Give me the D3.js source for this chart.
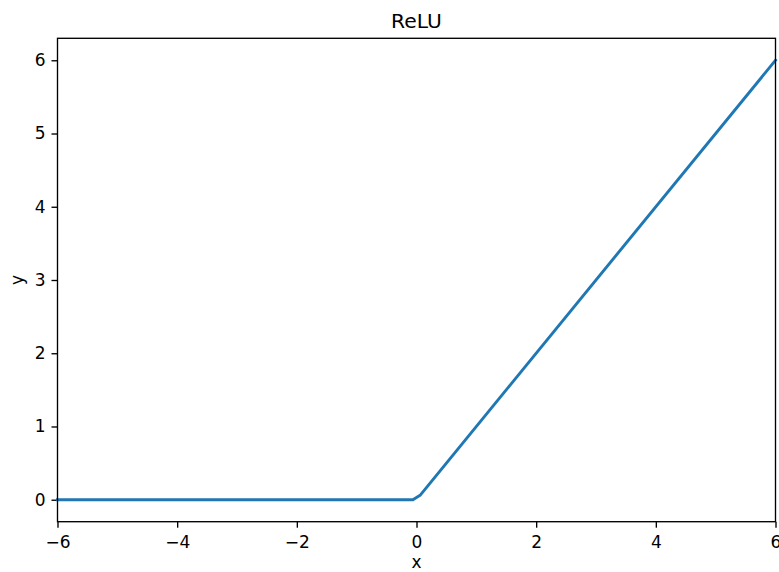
<!DOCTYPE html>
<html><head><meta charset="utf-8">
<script src="https://cdn.jsdelivr.net/npm/d3@7"></script>
<style>body{margin:0;background:#fff}svg{display:block}text{font-family:"DejaVu Sans",sans-serif;fill:#000}</style>
</head><body>
<script>
const title = "ReLU";
const xLabel = "x", yLabel = "y";
const xDomain = [-6, 6];
const yDomain = [-0.3, 6.3];
const xTicks = [-6, -4, -2, 0, 2, 4, 6];
const yTicks = [0, 1, 2, 3, 4, 5, 6];
const xs = [-6, -0.06, 0.06, 6];
const ys = [0, 0, 0.06, 6];

const W = 779, H = 572;
const svg = d3.select("body").append("svg").attr("width", W).attr("height", H);
const x = d3.scaleLinear().domain(xDomain).range([57.5, 775.5]);
const y = d3.scaleLinear().domain(yDomain).range([521.7, 38.3]);
const fmt = d => d < 0 ? "\u2212" + Math.abs(d) : String(d);

const gx = svg.append("g").attr("transform", `translate(0,${y(yDomain[0])})`)
  .call(d3.axisBottom(x).tickValues(xTicks).tickSize(6).tickPadding(8).tickFormat(fmt));
const gy = svg.append("g").attr("transform", `translate(${x(xDomain[0])},0)`)
  .call(d3.axisLeft(y).tickValues(yTicks).tickSize(6).tickPadding(6).tickFormat(fmt));
[gx, gy].forEach(g => {
  g.select(".domain").remove();
  g.selectAll(".tick line").attr("stroke", "#000").attr("stroke-width", 1.35);
  g.selectAll(".tick text").attr("font-size", "17px").attr("fill", "#000");
});

const line = d3.line().x((d, i) => x(xs[i])).y((d, i) => y(ys[i]));
svg.append("path").datum(xs).attr("d", line).attr("fill", "none")
  .attr("stroke", "#1f77b4").attr("stroke-width", 2.9).attr("stroke-linejoin", "round").attr("stroke-linecap", "square");

svg.append("rect").attr("x", x(xDomain[0])).attr("y", y(yDomain[1]))
  .attr("width", x(xDomain[1]) - x(xDomain[0])).attr("height", y(yDomain[0]) - y(yDomain[1]))
  .attr("fill", "none").attr("stroke", "#000").attr("stroke-width", 1.35);

svg.append("text").attr("x", (x(xDomain[0]) + x(xDomain[1])) / 2).attr("y", 28)
  .attr("text-anchor", "middle").attr("font-size", "20.3px").text(title);
svg.append("text").attr("x", (x(xDomain[0]) + x(xDomain[1])) / 2).attr("y", 568)
  .attr("text-anchor", "middle").attr("font-size", "17px").text(xLabel);
svg.append("text").attr("transform", `translate(23,${(y(yDomain[0]) + y(yDomain[1])) / 2}) rotate(-90)`)
  .attr("text-anchor", "middle").attr("font-size", "17px").text(yLabel);
</script>
</body></html>
